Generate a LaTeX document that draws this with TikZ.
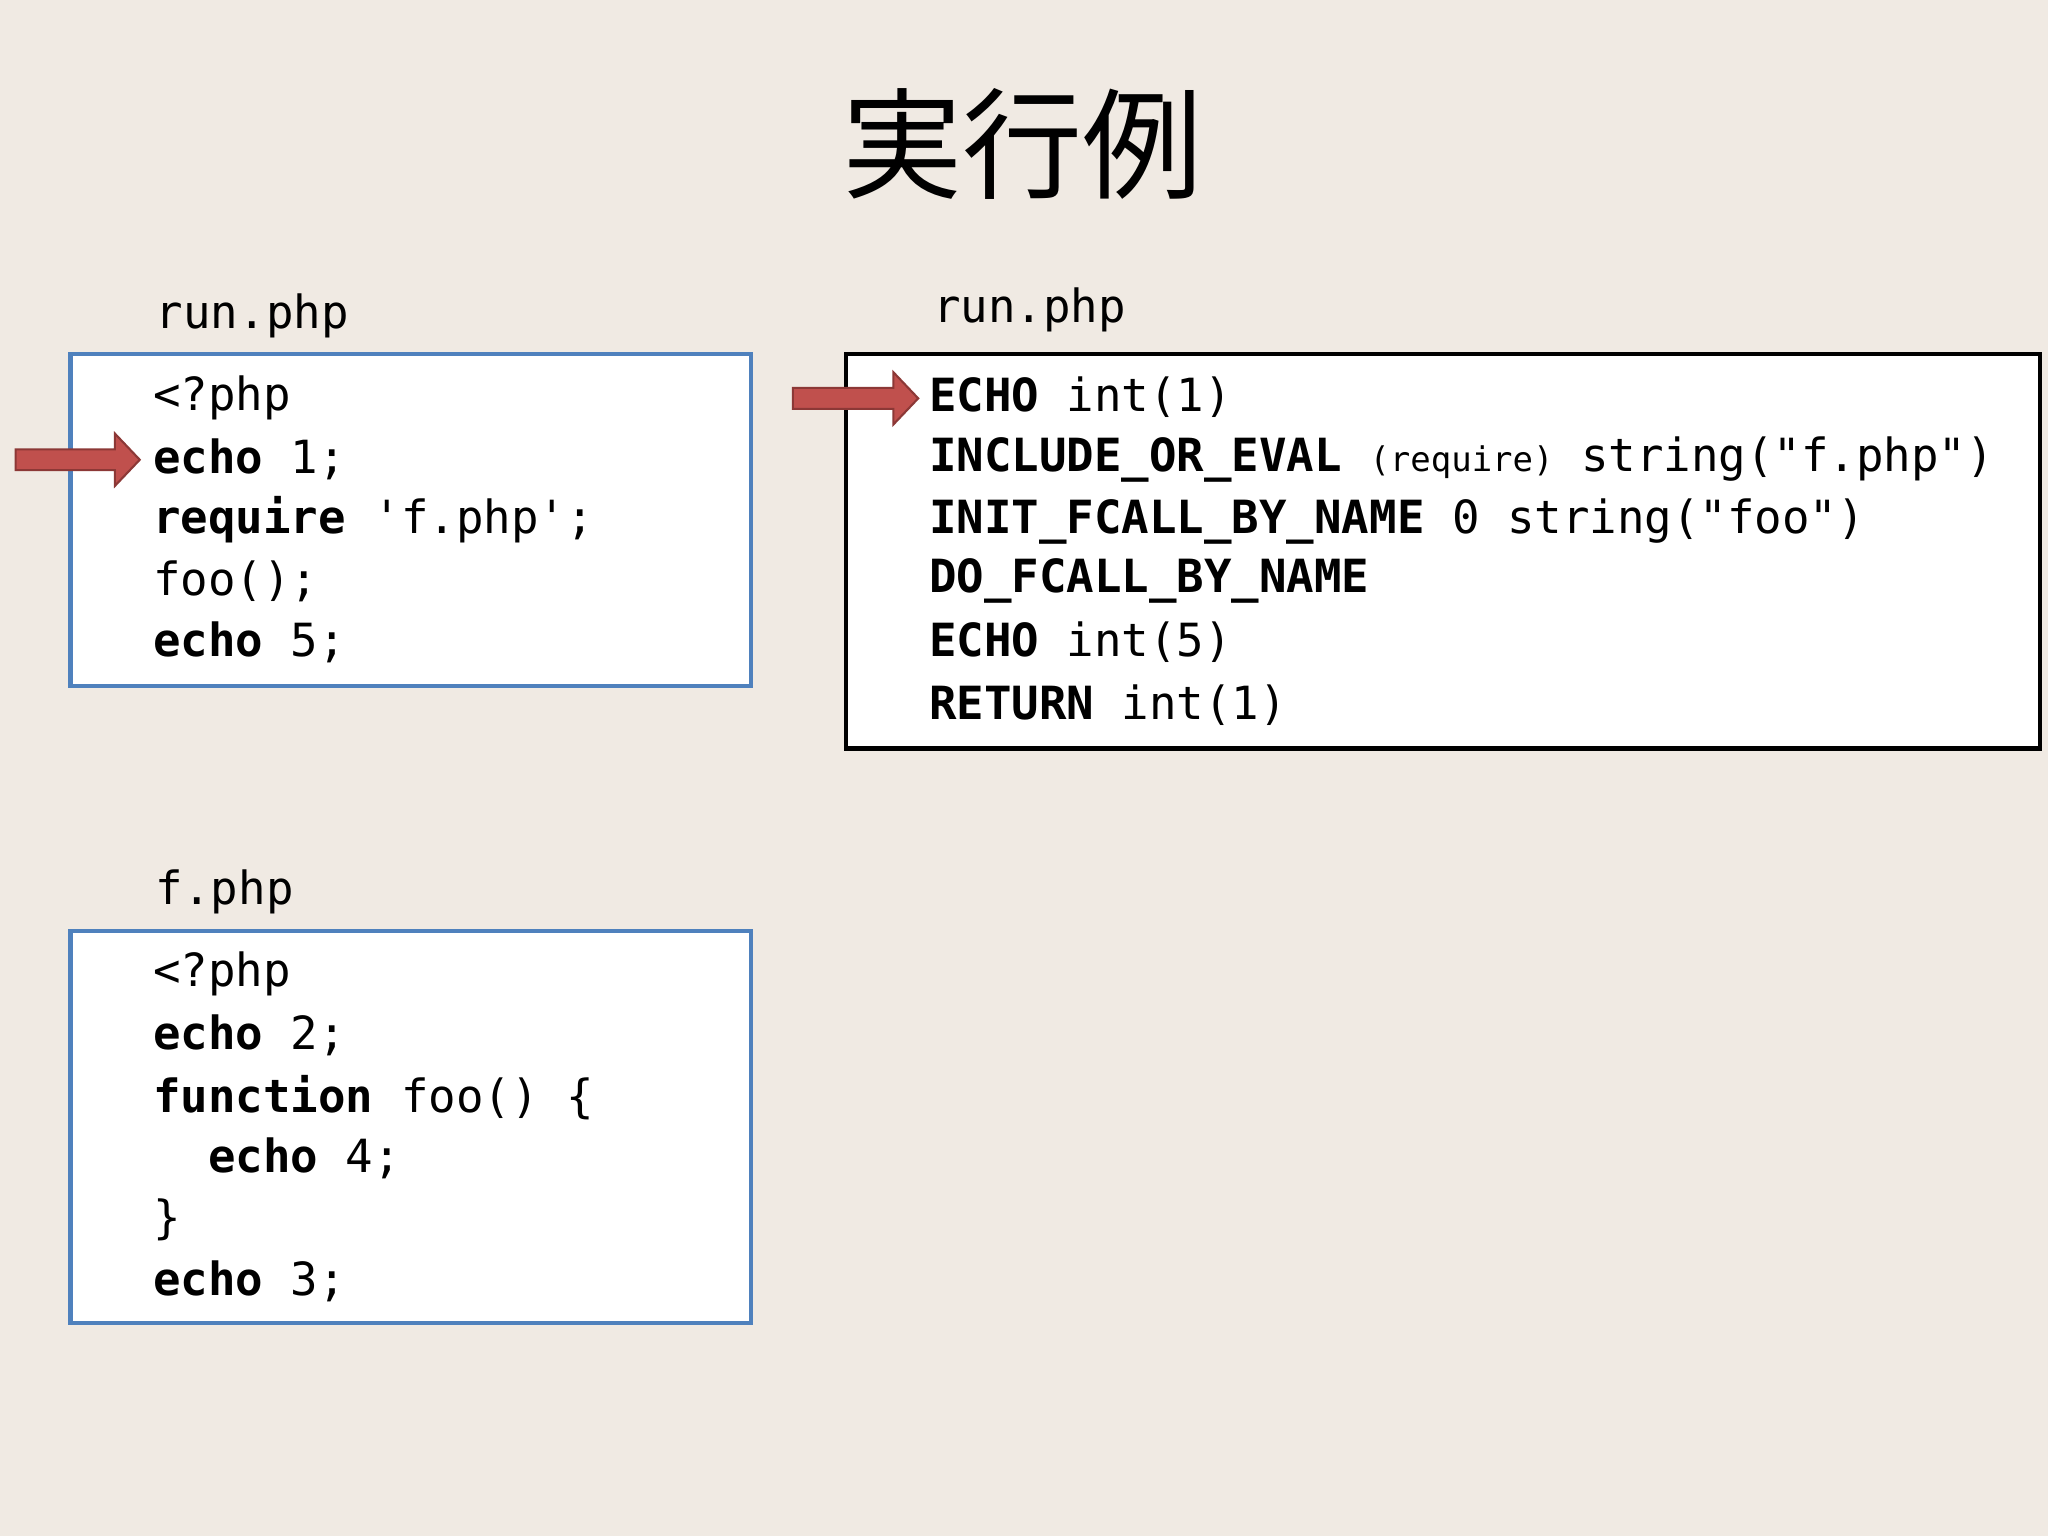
\documentclass[tikz,border=0pt]{standalone}
\usepackage{fontspec}
\setmonofont{DejaVu Sans Mono}
\newfontfamily\cjk{Noto Sans CJK JP}
\definecolor{bg}{HTML}{F0EAE3}
\definecolor{bluebox}{HTML}{4F81BD}
\definecolor{redar}{HTML}{C0504D}
\definecolor{redline}{HTML}{8C3836}
\tikzset{
  code/.style={anchor=west,inner sep=0pt,font=\ttfamily\fontsize{17.5}{20}\selectfont},
  lbl/.style={anchor=west,inner sep=0pt,font=\ttfamily\fontsize{17.5}{20}\selectfont},
  bbox/.style={draw=bluebox,line width=1.6pt,fill=white},
  kbox/.style={draw=black,line width=1.6pt,fill=white},
  rarrow/.style={fill=redar,draw=redline,line width=0.8pt,line join=miter}
}
\newcommand{\blockarrow}[3]{% tail x, tip x, y
  \draw[rarrow] (#1,#3+8) -- (#2-19,#3+8) -- (#2-19,#3+20) -- (#2,#3) -- (#2-19,#3-20) -- (#2-19,#3-8) -- (#1,#3-8) -- cycle;}
\begin{document}
\begin{tikzpicture}[x=0.5pt,y=0.5pt]
\fill[bg] (0,0) rectangle (1568,-1176);
\useasboundingbox (0,0) rectangle (1568,-1176);
\node (title) at (783,-110) {\cjk\fontsize{46}{50}\selectfont 実行例};
% left top
\node[lbl] (l1) at (119,-242) {run.php};
\draw[bbox] (54,-271) rectangle (575,-525);
\node[code] (a1) at (117,-305) {<?php};
\node[code] (a2) at (117,-352) {\textbf{echo} 1;};
\node[code] (a3) at (117,-398) {\textbf{require} 'f.php';};
\node[code] (a4) at (117,-445) {foo();};
\node[code] (a5) at (117,-492) {\textbf{echo} 5;};
\blockarrow{12}{107}{-352}
% f.php
\node[lbl] (l3) at (119,-683) {f.php};
\draw[bbox] (54,-713) rectangle (575,-1013);
\node[code] (b1) at (117,-746) {<?php};
\node[code] (b2) at (117,-793) {\textbf{echo} 2;};
\node[code] (b3) at (117,-840) {\textbf{function} foo() \{};
\node[code] (b4) at (117,-887) {\ \ \textbf{echo} 4;};
\node[code] (b5) at (117,-934) {\}};
\node[code] (b6) at (117,-981) {\textbf{echo} 3;};
% right
\node[lbl] (l2) at (714,-237) {run.php};
\draw[kbox] (648,-271) rectangle (1562,-573);
\node[code] (c1) at (711,-304) {\textbf{ECHO} int(1)};
\node[code] (c2) at (711,-352) {\textbf{INCLUDE\_OR\_EVAL} {\fontsize{13}{14}\selectfont(require)} string("f.php")};
\node[code] (c3) at (711,-399) {\textbf{INIT\_FCALL\_BY\_NAME} 0 string("foo")};
\node[code] (c4) at (711,-445) {\textbf{DO\_FCALL\_BY\_NAME}};
\node[code] (c5) at (711,-492) {\textbf{ECHO} int(5)};
\node[code] (c6) at (711,-540) {\textbf{RETURN} int(1)};
\blockarrow{607}{703}{-305}
\end{tikzpicture}
\end{document}
